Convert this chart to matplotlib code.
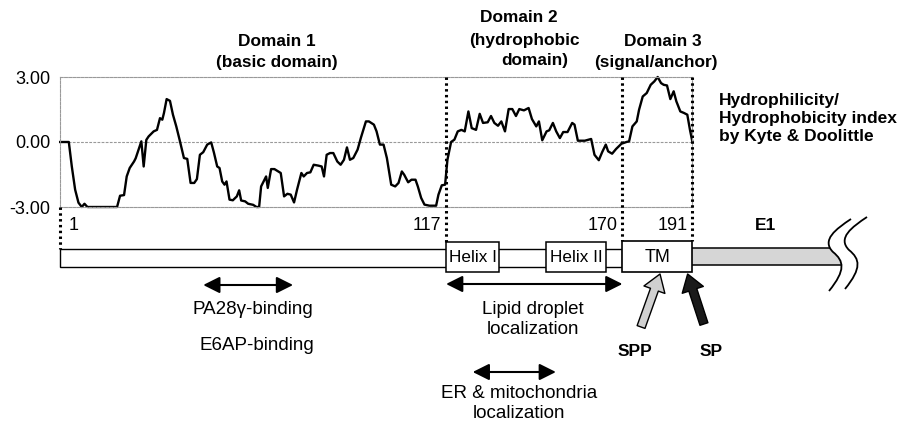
import matplotlib.pyplot as plt
from matplotlib.path import Path
from matplotlib.patches import Rectangle, PathPatch

plt.rcParams['font.family'] = ['Liberation Sans', 'DejaVu Sans']
plt.rcParams['axes.unicode_minus'] = False

# Kyte & Doolittle profile of the core protein (residue, index)
residue = [1.0, 3.6, 4.5, 5.5, 6.5, 7.5, 8.3, 9.2, 18.1, 19.0, 20.2, 21.0, 21.9, 23.2,
           23.7, 25.4, 26.1, 26.9, 27.6, 29.1, 30.1, 31.0, 31.7, 32.2, 33.0, 34.0, 34.9,
           35.9, 36.9, 38.2, 39.2, 40.2, 41.3, 42.1, 43.0, 44.0, 45.2, 46.4, 47.2, 48.2,
           48.9, 49.7, 50.4, 51.0, 51.9, 52.9, 54.1, 54.8, 55.4, 56.6, 57.5, 59.0, 60.0,
           60.8, 61.4, 62.4, 62.9, 63.4, 64.4, 65.4, 67.3, 68.3, 69.3, 70.3, 71.3, 72.2,
           73.5, 74.2, 75.2, 76.2, 77.2, 78.6, 79.6, 80.3, 81.1, 82.1, 83.1, 84.3, 85.3,
           86.3, 87.2, 88.1, 89.1, 90.4, 91.4, 92.9, 93.8, 95.3, 96.1, 97.1, 98.2, 99.2,
           100.5, 101.7, 102.7, 103.7, 104.4, 105.6, 106.6, 107.8, 108.5, 109.5, 110.5,
           112.0, 114.0, 114.7, 115.7, 116.7, 117.4, 118.5, 119.5, 120.5, 121.6, 122.6,
           123.7, 124.7, 126.0, 127.1, 128.1, 129.5, 130.5, 131.5, 132.6, 133.6, 134.7,
           135.8, 136.9, 138.0, 139.0, 140.4, 141.8, 142.8, 144.1, 144.9, 145.9, 147.2,
           148.0, 149.1, 150.1, 151.2, 152.2, 153.5, 154.9, 155.6, 156.6, 158.7, 160.6,
           161.6, 162.9, 163.9, 165.0, 165.7, 166.9, 168.1, 169.7, 171.2, 172.0, 173.0,
           174.3, 175.0, 176.1, 177.3, 178.5, 179.6, 180.6, 181.6, 182.4, 183.4, 184.4,
           185.4, 186.2, 187.4, 188.5, 189.5, 190.3, 191.0]
kd_index = [0.0, 0.0, -1.13, -2.2, -2.8, -3.0, -2.85, -3.0, -3.0, -2.48, -2.45, -1.59, -1.2,
            -0.9, -0.75, 0.03, -1.13, 0.1, 0.26, 0.49, 0.56, 1.1, 1.03, 1.34, 1.98, 1.9,
            1.26, 0.72, 0.1, -0.74, -0.78, -1.89, -1.89, -1.71, -0.59, -0.47, -0.12, -0.02,
            -0.48, -1.13, -1.2, -1.82, -1.97, -1.82, -2.66, -2.69, -2.51, -2.23, -2.7,
            -2.74, -2.85, -2.9, -3.0, -3.0, -2.05, -1.75, -1.59, -2.12, -1.25, -1.25,
            -1.43, -2.51, -2.39, -2.43, -2.79, -2.2, -1.43, -1.59, -1.43, -1.4, -1.05,
            -1.09, -1.13, -1.59, -0.59, -0.51, -0.51, -0.9, -1.05, -0.82, -0.25, -0.82,
            -0.74, -0.35, 0.2, 0.95, 0.95, 0.8, 0.49, -0.12, -0.12, -0.74, -1.97, -2.05,
            -1.89, -1.36, -1.51, -1.86, -1.74, -1.74, -2.05, -2.58, -2.89, -2.94, -2.94,
            -2.43, -2.0, -1.97, -0.82, 0.0, 0.11, 0.49, 0.56, 0.49, 1.41, 0.64, 0.56, 1.3,
            0.88, 0.91, 1.2, 0.88, 0.75, 0.95, 0.49, 1.52, 1.52, 1.2, 1.52, 1.46, 1.57,
            1.06, 0.72, 0.95, 0.08, 0.49, 0.54, 0.88, 0.49, 0.18, 0.46, 0.46, 0.88, 0.8,
            0.06, 0.06, 0.14, -0.59, -0.84, -0.47, -0.12, -0.43, -0.54, -0.32, -0.08, 0.0,
            0.03, 0.72, 0.95, 1.49, 2.1, 2.26, 2.64, 2.8, 3.0, 2.72, 2.64, 2.61, 1.98,
            2.34, 1.88, 1.41, 1.34, 1.26, 0.56, 0.03]

y_ticks = [-3, 0, 3]
y_tick_labels = ['-3.00', '0.00', '3.00']

boundaries = [1, 117, 170, 191]
helices = [('Helix I', 117, 133), ('Helix II', 147, 165)]
tm = ('TM', 170, 191)
e1_end = 238

domain_labels = [
    (['Domain 1', '(basic domain)'], 66.0, [42, 62]),
    (['Domain 2', '(hydrophobic', 'domain)'], [139.0, 140.5, 143.5], [18, 40, 61]),
    (['Domain 3', '(signal/anchor)'], [182.0, 180.0], [42, 62]),
]

# (label lines, start, end, arrow y, text x, text y's)
regions = [
    (['PA28\u03b3-binding'], 44, 71, 285, 59.0, [310]),
    (['Lipid droplet', 'localization'], 117, 170, 284, 143.0, [309, 330]),
    (['ER & mitochondria', 'localization'], 125, 150, 372, 139.0, [393, 413]),
]
extra_label = ('E6AP-binding', 60.2, 346)

# cleavage arrows: name, tip residue, tail residue, tail y, fill, label x
cleavage = [('SPP', 181.3, 175.6, 327, '#d0d0d0', 173.8),
            ('SP', 189.6, 194.5, 324, '#1a1a1a', 196.8)]

W, H = 898, 422
X0, SLOPE = 56.84, 3.327          # pixel = X0 + SLOPE * residue
TOP, BOT = 77, 207


def px2r(px):
    return (px - X0) / SLOPE


fig = plt.figure(figsize=(W / 100, H / 100), dpi=100)
ax = fig.add_axes([(X0 + SLOPE) / W, (H - BOT) / H, SLOPE * 190 / W, (BOT - TOP) / H])
ax.set_xlim(1, 191)
ax.set_ylim(-3, 3)
for sp in ax.spines.values():
    sp.set_color('#999999')
    sp.set_linewidth(0.8)
    sp.set_linestyle((0, (2.5, 1.2)))
ax.axhline(0, color='#999999', lw=0.8, ls=(0, (2.5, 1.2)))
ax.plot(residue, kd_index, color='black', lw=1.7, clip_on=False, solid_joinstyle='round')
ax.set_xticks([])
ax.set_yticks(y_ticks)
ax.set_yticklabels(y_tick_labels, fontsize=13)
ax.tick_params(axis='y', length=0, pad=7)

# overlay for the schematic: x in residues, y in pixels from top
ax2 = fig.add_axes([0, 0, 1, 1])
ax2.set_xlim(px2r(0), px2r(W))
ax2.set_ylim(H, 0)
ax2.axis('off')
ax2.patch.set_alpha(0)

dots = dict(color='black', lw=2.2, ls=(0, (0.8, 1.1)))
ax2.plot([1, 1], [BOT, 249], **dots)
ax2.plot([117, 117], [TOP, 241.5], **dots)
ax2.plot([170, 170], [TOP, 240.5], **dots)
ax2.plot([191, 191], [TOP, 240.5], **dots)

# residue numbers
ax2.text(3.4, 225, '1', fontsize=13, ha='left', va='center')
for b in boundaries[1:]:
    ax2.text(b - 1.5, 225, str(b), fontsize=13, ha='right', va='center')
ax2.text(px2r(766), 225, 'E1', fontsize=12.5, fontweight='bold', ha='center', va='center')

# core bar + boxes
ax2.add_patch(Rectangle((1, 249.3), 169, 17.4, fc='white', ec='black', lw=1.0, zorder=2))
for name, s, e in helices:
    ax2.add_patch(Rectangle((s, 241.7), e - s, 30.6, fc='white', ec='black', lw=1.1, zorder=3))
    ax2.text((s + e) / 2, 257, name, fontsize=12.3, ha='center', va='center', zorder=4)
name, s, e = tm
ax2.add_patch(Rectangle((s, 240.7), e - s, 31.6, fc='white', ec='black', lw=1.2, zorder=3))
ax2.text((s + e) / 2, 257, name, fontsize=13, ha='center', va='center', zorder=4)

# E1 bar with break
ax2.add_patch(Rectangle((191, 247.7), e1_end - 191, 17.3, fc='#d6d6d6', ec='none', zorder=2))
ax2.plot([191, e1_end], [247.7, 247.7], color='black', lw=1.1, zorder=2)
ax2.plot([191, e1_end], [265, 265], color='black', lw=1.1, zorder=2)


def wave(dx, dy):
    pts = [(851, 219), (836, 229), (821, 240), (833, 252), (844, 261), (846, 270), (829, 291)]
    return [(px2r(x + dx), y + dy) for x, y in pts]


codes = [Path.MOVETO] + [Path.CURVE4] * 6
left = wave(0, 0)
mask = left + [(px2r(890), 291), (px2r(890), 219), left[0]]
ax2.add_patch(PathPatch(Path(mask, codes + [Path.LINETO] * 3),
                        fc='white', ec='none', zorder=5))
for dx, dy in [(0, 0), (16, -2)]:
    ax2.add_patch(PathPatch(Path(wave(dx, dy), codes), fc='none', ec='black',
                            lw=1.3, zorder=6))

# domain titles
for lines, xs, ys in domain_labels:
    if not isinstance(xs, list):
        xs = [xs] * len(lines)
    for t, x, y in zip(lines, xs, ys):
        ax2.text(x, y, t, fontsize=12.4, fontweight='bold', ha='center', va='center')

ax2.text(px2r(719), 118.5, 'Hydrophilicity/\nHydrophobicity index\nby Kyte & Doolittle',
         fontsize=12.5, fontweight='bold', ha='left', va='center', linespacing=1.22)

# functional regions
for lines, s, e, y, tx, tys in regions:
    ax2.annotate('', xy=(e, y), xytext=(s, y),
                 arrowprops=dict(arrowstyle='<|-|>,head_length=0.5,head_width=0.25',
                                 color='black', lw=1.5, mutation_scale=20,
                                 shrinkA=0, shrinkB=0))
    for t, ty in zip(lines, tys):
        ax2.text(tx, ty, t, fontsize=13.5, ha='center', va='center')
ax2.text(extra_label[1], extra_label[2], extra_label[0], fontsize=13.5, ha='center', va='center')

# cleavage sites
for name, tip, tail, ty, fc, lx in cleavage:
    ax2.annotate('', xy=(tip, 274), xytext=(tail, ty),
                 arrowprops=dict(arrowstyle='simple,head_length=0.6,head_width=0.8,tail_width=0.3',
                                 fc=fc, ec='black', lw=1.0, mutation_scale=20,
                                 shrinkA=0, shrinkB=0))
    ax2.text(lx, 351, name, fontsize=12.5, fontweight='bold', ha='center', va='center')

fig.savefig('out.png', dpi=100)
